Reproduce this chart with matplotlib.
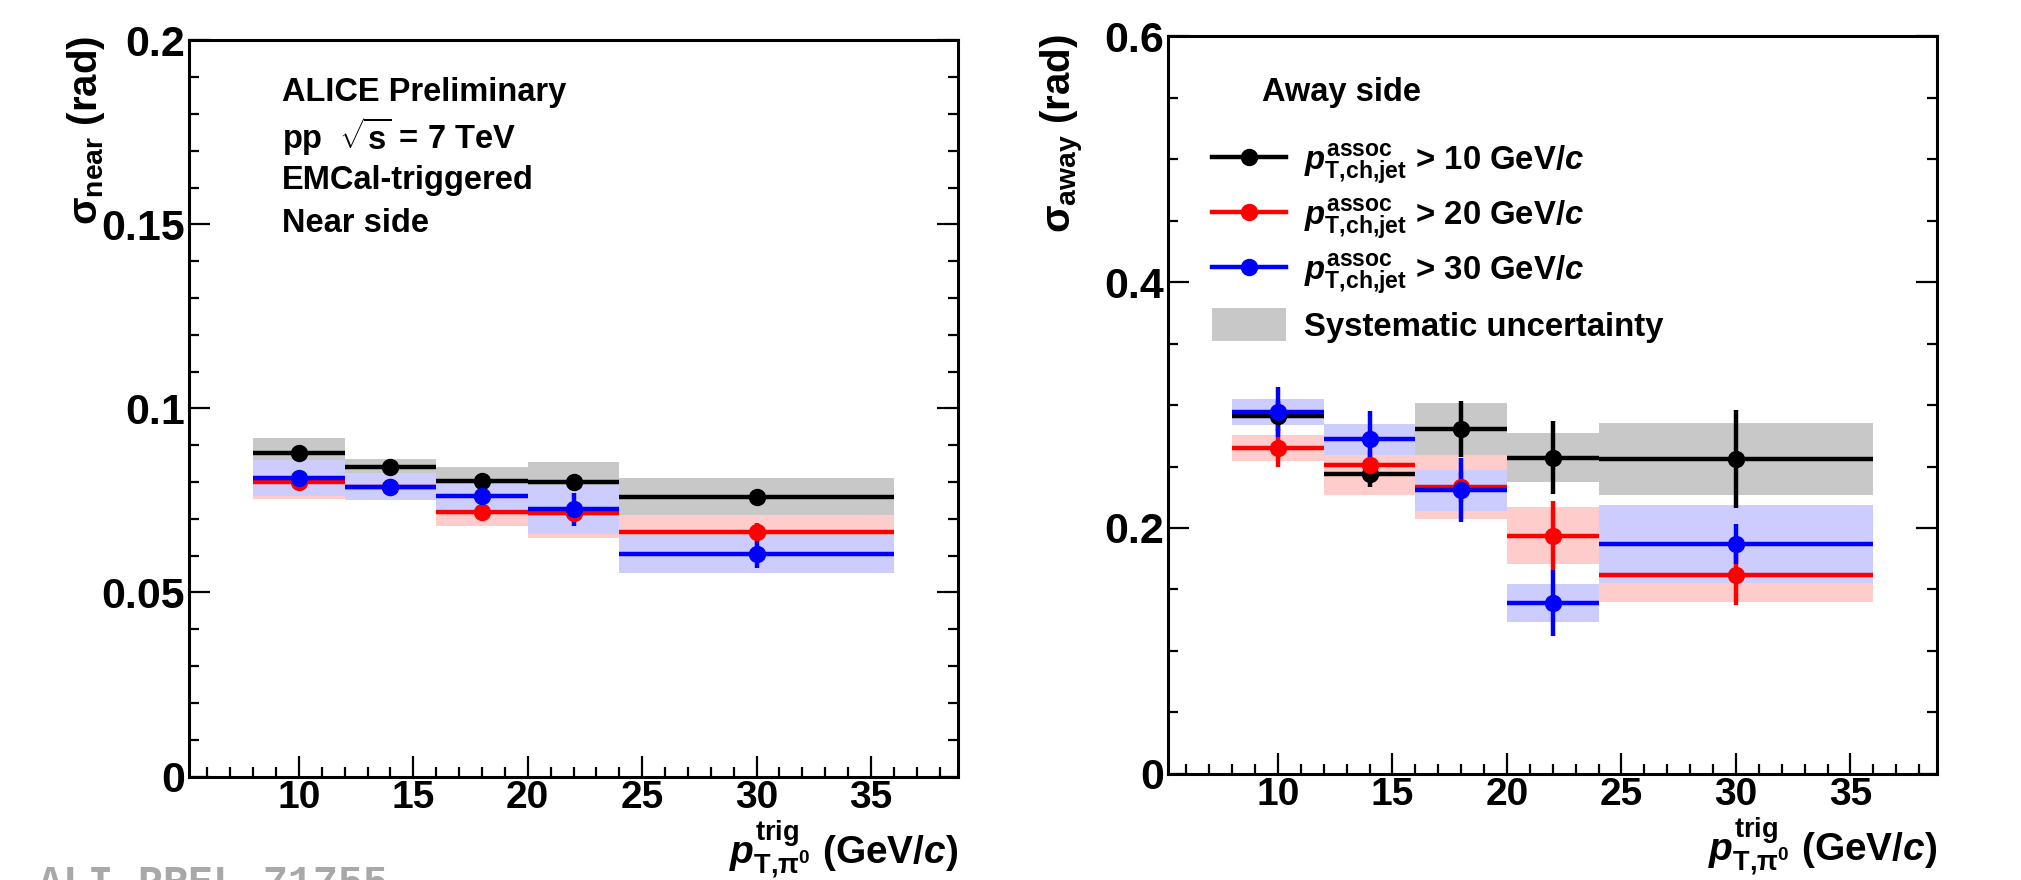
import numpy as np
import matplotlib
matplotlib.use("Agg")
import matplotlib.pyplot as plt
from matplotlib import font_manager as fm
from matplotlib.ticker import MultipleLocator, FuncFormatter
from matplotlib.lines import Line2D
from matplotlib.patches import Patch

names = {f.name for f in fm.fontManager.ttflist}
FAM = 'Liberation Sans Narrow' if 'Liberation Sans Narrow' in names else 'Liberation Sans'

plt.rcParams['font.family'] = [FAM, 'DejaVu Sans']
plt.rcParams['font.weight'] = 'bold'
plt.rcParams['mathtext.fontset'] = 'custom'
plt.rcParams['mathtext.rm'] = f'{FAM}:bold'
plt.rcParams['mathtext.bf'] = f'{FAM}:bold'
plt.rcParams['mathtext.sf'] = f'{FAM}'
plt.rcParams['mathtext.it'] = f'{FAM}:italic:bold'

# ---------------- data ----------------
bin_lo = [8, 12, 16, 20, 24]
bin_hi = [12, 16, 20, 24, 36]
pt_trig = [10, 14, 18, 22, 30]

near_10 = [0.0878, 0.0841, 0.0803, 0.0799, 0.0760]
near_10_stat = [0.0010, 0.0009, 0.0010, 0.0010, 0.0013]
near_10_sys = [0.0043, 0.0021, 0.0037, 0.0055, 0.0052]
near_20 = [0.0801, 0.0786, 0.0718, 0.0716, 0.0663]
near_20_stat = [0.0010, 0.0010, 0.0012, 0.0015, 0.0027]
near_20_sys = [0.0048, 0.0030, 0.0037, 0.0068, 0.0047]
near_30 = [0.0811, 0.0787, 0.0761, 0.0726, 0.0605]
near_30_stat = [0.0012, 0.0012, 0.0030, 0.0045, 0.0039]
near_30_sys = [0.0049, 0.0037, 0.0035, 0.0066, 0.0052]

away_10 = [0.2912, 0.2437, 0.2806, 0.2573, 0.2562]
away_10_stat = [0.012, 0.0105, 0.023, 0.030, 0.040]
away_10_sys = [0.007, 0.012, 0.021, 0.020, 0.0296]
away_20 = [0.2649, 0.2510, 0.2334, 0.1938, 0.1617]
away_20_stat = [0.0155, 0.012, 0.012, 0.028, 0.024]
away_20_sys = [0.0105, 0.024, 0.026, 0.023, 0.0217]
away_30 = [0.2942, 0.2722, 0.2307, 0.1389, 0.1870]
away_30_stat = [0.0205, 0.023, 0.026, 0.027, 0.016]
away_30_sys = [0.0106, 0.0127, 0.0166, 0.0154, 0.0316]

series_labels = [r'$p^{\rm assoc}_{\rm T{,}ch{,}jet}$ > 10 GeV/$c$',
                 r'$p^{\rm assoc}_{\rm T{,}ch{,}jet}$ > 20 GeV/$c$',
                 r'$p^{\rm assoc}_{\rm T{,}ch{,}jet}$ > 30 GeV/$c$']
line_colors = ['#000000', '#ff0000', '#0000ff']
band_colors = ['#c8c8c8', '#ffcccc', '#ccccff']

# ---------------- figure ----------------
W, H = 2021, 880
fig = plt.figure(figsize=(W / 100, H / 100), dpi=100)

def fx(px):
    return px / W

def fy(py):
    return 1 - py / H

axL = fig.add_axes([fx(189), fy(776.5), fx(958 - 189), (776.5 - 40.4) / H])
axR = fig.add_axes([fx(1168), fy(773.7), fx(1937.5 - 1168), (773.7 - 36.5) / H])

lo = np.array(bin_lo, float)
hi = np.array(bin_hi, float)
xc = np.array(pt_trig, float)
xerr = [xc - lo, hi - xc]

LW = 3.2
MS = 11.5


def draw(ax, vals, stats, syss):
    for v, s, c in zip(vals, syss, band_colors):
        v = np.array(v); s = np.array(s)
        ax.bar(lo, 2 * s, bottom=v - s, width=hi - lo, align='edge',
               color=c, linewidth=0, zorder=1)
    for v, e, c in zip(vals, stats, line_colors):
        ax.errorbar(xc, v, xerr=xerr, yerr=e, fmt='o', color=c, ms=MS,
                    elinewidth=LW, capsize=0, zorder=3)


draw(axL, [near_10, near_20, near_30], [near_10_stat, near_20_stat, near_30_stat],
     [near_10_sys, near_20_sys, near_30_sys])
draw(axR, [away_10, away_20, away_30], [away_10_stat, away_20_stat, away_30_stat],
     [away_10_sys, away_20_sys, away_30_sys])

fmt = FuncFormatter(lambda v, p: ('%g' % round(v, 4)))
for ax, ymax, ymaj, ymin in [(axL, 0.2, 0.05, 0.01), (axR, 0.6, 0.2, 0.05)]:
    ax.set_xlim(5.2, 38.8)
    ax.set_ylim(0, ymax)
    ax.xaxis.set_major_locator(MultipleLocator(5))
    ax.xaxis.set_minor_locator(MultipleLocator(1))
    ax.yaxis.set_major_locator(MultipleLocator(ymaj))
    ax.yaxis.set_minor_locator(MultipleLocator(ymin))
    ax.yaxis.set_major_formatter(fmt)
    ax.tick_params(which='both', direction='in', right=True, top=False, width=1.6)
    ax.tick_params(axis='y', labelsize=31)
    ax.tick_params(axis='x', labelsize=28)
    ax.tick_params(which='major', length=15)
    ax.tick_params(which='minor', length=7.5)
    ax.tick_params(axis='x', which='major', pad=2.5)
    ax.tick_params(axis='y', which='major', pad=3)
    for sp in ax.spines.values():
        sp.set_linewidth(2.2)
    ax.set_xticks([10, 15, 20, 25, 30, 35])
    ax.text(1.0, -(850 - 776.5) / (776.5 - 40.4), r'$p^{\rm trig}_{\rm T{,}\pi^0}$ (GeV/$c$)',
            transform=ax.transAxes, ha='right', va='center', fontsize=28)

# y labels
fig.text(fx(86), fy(36), r'$\mathsf{\sigma}_{\rm near}$ (rad)', rotation=90, ha='center', va='top', fontsize=29)
fig.text(fx(1062), fy(34), r'$\mathsf{\sigma}_{\rm away}$ (rad)', rotation=90, ha='center', va='top', fontsize=29)

# left annotations
for txt, py in [('ALICE Preliminary', 93), (r'pp  $\sqrt{\rm s}$ = 7 TeV', 137),
                ('EMCal-triggered', 181), ('Near side', 224)]:
    axL.text((282 - 189) / 769, 1 - (py - 40.4) / 736.1, txt, transform=axL.transAxes,
             ha='left', va='center', fontsize=23.5)

# right legend
axR.text((1262 - 1168) / 769.5, 1 - (93 - 36.5) / 737.2, 'Away side', transform=axR.transAxes,
         ha='left', va='center', fontsize=23.5)
handles = [Line2D([], [], color=c, lw=LW, marker='o', ms=MS) for c in line_colors]
handles.append(Patch(facecolor=band_colors[0], edgecolor='none'))
labels = series_labels + ['Systematic uncertainty']
leg = axR.legend(handles, labels, loc='upper left',
                 bbox_to_anchor=((1216 - 1168) / 769.5 - 0.005, 1 - (143 - 36.5) / 737.2),
                 frameon=False, fontsize=23.7, handlelength=2.25, handletextpad=0.55,
                 labelspacing=0.32, borderaxespad=0, borderpad=0, handleheight=1.2)

# watermark
fig.text(fx(38), fy(864), 'ALI-PREL-71755', ha='left', va='top', fontsize=30,
         family='Liberation Mono', weight='bold', color='#a8a8a8')

fig.savefig('out.png', dpi=100)
